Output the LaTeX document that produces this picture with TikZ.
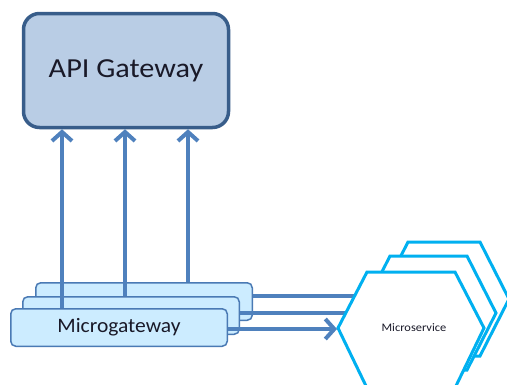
\documentclass[tikz,border=0pt]{standalone}
\usepackage{fontspec}
\setmainfont{Carlito}
\usetikzlibrary{arrows.meta}
\definecolor{arrowblue}{RGB}{79,129,189}
\definecolor{apifill}{RGB}{185,205,229}
\definecolor{apiborder}{RGB}{56,93,138}
\definecolor{mgfill}{RGB}{204,236,255}
\definecolor{mgborder}{RGB}{74,122,180}
\definecolor{hexcyan}{RGB}{0,176,240}
\definecolor{textdark}{RGB}{25,25,40}
\tikzset{
  apibox/.style={draw=apiborder, fill=apifill, line width=3.5pt, rounded corners=16pt,
    minimum width=205pt, minimum height=114pt, inner sep=0pt, text=textdark,
    font=\fontsize{27.5}{30}\selectfont},
  mgbox/.style={draw=mgborder, fill=mgfill, line width=1.5pt, rounded corners=5pt,
    minimum width=216.5pt, minimum height=37.5pt, inner sep=0pt, text=textdark,
    font=\fontsize{20.5}{22}\selectfont},
  hexshape/.style={draw=hexcyan, fill=white, line width=3pt, line join=miter},
  conn/.style={draw=arrowblue, line width=4pt},
  arr/.style={conn, -{Straight Barb[length=9pt,width=20pt,line width=4pt]}},
  hlabel/.style={font=\fontsize{11.5}{13}\selectfont, inner sep=0pt, text=textdark}
}
\begin{document}
\begin{tikzpicture}[x=1pt,y=-1pt]
\clip (0,0) rectangle (507,384);
\fill[white] (0,0) rectangle (507,384);

% API Gateway
\node[apibox] (api) at (126,70.5) {\scalebox{1.1}[1]{API Gateway}};

% Microgateway stack (back to front)
\node[mgbox] (mg3) at (144,301.5) {};
\node[mgbox] (mg2) at (131,315.5) {};
\node[mgbox] (mg1) at (119,327.5) {\scalebox{1.05}[1]{Microgateway}};

% guide coordinates
\coordinate (v1) at (62,0);
\coordinate (v2) at (125,0);
\coordinate (v3) at (188,0);
\coordinate (h1) at (365,296);
\coordinate (h2) at (365,313);
\coordinate (hexL) at (337,329);

% vertical arrows to API Gateway
\draw[arr] (mg1.north -| v1) -- (api.south -| v1);
\draw[arr] (mg2.north -| v2) -- (api.south -| v2);
\draw[arr] (mg3.north -| v3) -- (api.south -| v3);

% horizontal connectors to microservices
\draw[conn] (mg3.east |- h1) -- (h1);
\draw[conn] (mg2.east |- h2) -- (h2);

% microservice hexagons (back to front)
\draw[hexshape] (379,299) -- (408,242) -- (480,242) -- (509,299) -- (480,356) -- (408,356) -- cycle;
\draw[hexshape] (361,313) -- (390,256) -- (467,256) -- (496,313) -- (467,370) -- (390,370) -- cycle;
\draw[hexshape] (338,328) -- (367,272) -- (455,272) -- (484,328) -- (455,388) -- (367,388) -- cycle;
\node[hlabel] (ms) at (414,328) {\scalebox{1.08}[1]{Microservice}};

% arrow into the front microservice
\draw[arr] (mg1.east |- hexL) -- (hexL);
\end{tikzpicture}
\end{document}
